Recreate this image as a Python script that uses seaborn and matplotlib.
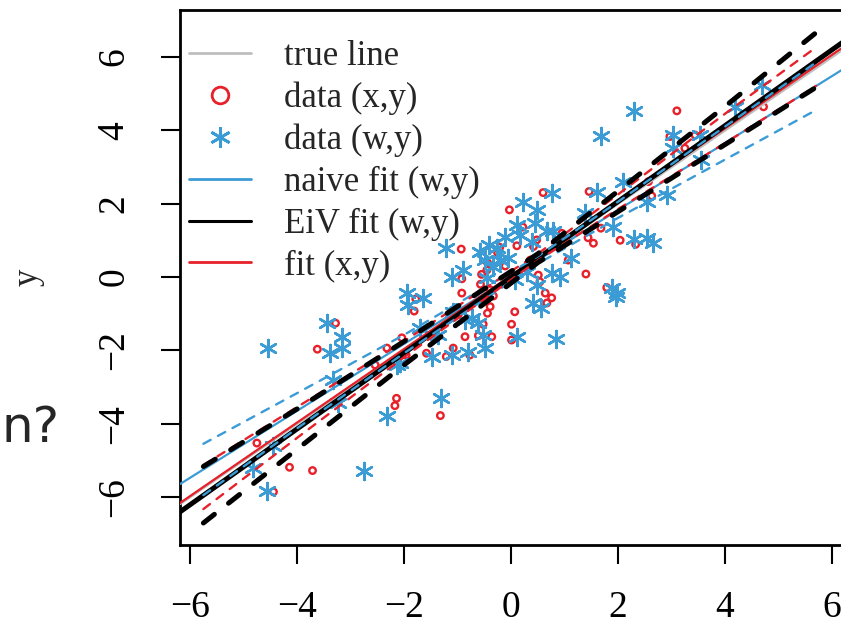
import numpy as np
import pandas as pd
import matplotlib
matplotlib.use("Agg")
import matplotlib.pyplot as plt
from matplotlib.lines import Line2D
import seaborn as sns

# data (x,y): red circles
red_x = [-4.75, -4.14, -3.71, -4.44, -3.28, -3.62, -2.32, -2.04, -2.54, -2.14,
         -2.17, -1.32, -1.78, -1.81, -1.96, -1.58, -1.21, -1.08, -0.86, -0.77,
         -0.61, -0.36, -0.52, -0.44, -0.39, -0.33, 0.07, 0.01, 0.01, -0.93,
         -0.03, 0.60, 0.22, 0.48, 0.42, 0.11, -0.21, -0.25, -0.44, -0.11,
         -0.45, -0.55, -0.92, -0.57, -0.39, -0.92, 0.51, 0.54, 0.64, 0.36,
         1.46, 2.63, 1.68, 0.95, 1.44, 1.54, 2.04, 2.33, 1.07, 1.40,
         1.79, 0.76, 0.67, 3.10, 4.72, 3.44, 3.25, 2.97, 2.57]
red_y = [-4.53, -5.19, -5.28, -5.86, -1.26, -1.97, -1.94, -1.66, -2.40, -3.31,
         -3.51, -3.78, -0.60, -0.93, -2.13, -2.08, -2.17, -1.94, -1.63, -2.13,
         -1.60, -1.63, -1.29, -0.99, -0.81, -0.52, -0.95, -1.29, -1.72, 0.76,
         1.83, 2.30, 1.36, 1.01, 0.83, 0.85, 0.81, 0.66, 0.39, 0.30,
         0.19, 0.07, -0.05, -0.20, -0.35, -0.44, 0.05, -0.13, -0.44, 0.46,
         2.33, 2.21, 1.33, 1.19, 1.07, 0.92, 1.00, 0.89, 0.46, 0.08,
         -0.29, -0.57, -0.71, 4.53, 4.64, 3.87, 3.51, 3.83, 2.60]

# data (w,y): blue stars
blue_w = [-4.54, -3.44, -3.16, -3.16, -3.38, -3.32, -3.24, -2.31, -2.14, -1.94,
          -1.93, -2.74, -4.44, -4.82, -4.56, -1.22, -0.89, -1.11, -0.58, -0.42,
          -0.27, -0.11, 0.11, 0.17, 0.48, 0.45, 0.23, -0.21, -0.05, -0.33,
          -0.49, 0.29, 0.48, 0.07, -0.45, 0.67, 0.39, 0.76, 1.60, 2.10,
          2.91, 2.54, 1.38, 1.91, 0.79, 2.29, 2.54, 2.66, 1.13, 0.76,
          0.92, 1.88, 1.98, -1.64, -1.70, -1.36, -1.48, -1.08, -0.86, -0.73,
          -0.61, -0.52, -0.49, -0.80, -1.11, 0.11, 0.42, 0.57, -2.07, -1.30,
          0.84, 1.96, 2.30, 1.68, 3.03, 3.03, 4.19, 4.69, 3.56, 3.53]
blue_y = [-1.94, -1.26, -1.65, -1.94, -2.08, -2.80, -3.44, -3.79, -2.40, -0.44,
          -0.76, -5.29, -4.61, -5.20, -5.85, 0.78, 0.19, -0.01, 0.69, 0.87,
          0.78, 1.10, 1.42, 1.15, 1.83, 1.46, 2.05, 0.46, 0.51, 0.28,
          0.46, 0.14, -0.22, -0.08, -0.04, 1.24, 0.96, 2.30, 2.33, 2.60,
          2.24, 2.05, 1.75, 1.37, 1.24, 1.03, 1.06, 0.92, 0.51, 0.10,
          0.01, -0.31, -0.44, -0.58, -1.40, -1.58, -2.17, -0.95, -1.17, -1.13,
          -1.26, -1.58, -1.94, -2.04, -2.13, -1.63, -0.72, -0.85, -2.35, -3.29,
          -1.70, -0.56, 4.53, 3.85, 3.87, 3.51, 4.64, 5.24, 3.19, 3.87]

# fitted lines: (intercept, slope)
true_line = (0.0, 1.0)
naive_fit = (0.0, 0.913)
eiv_fit = (-0.01, 1.034)
xy_fit = (0.04, 1.003)

# dashed bands
band_x = [-5.75, -4.0, -2.0, 0.5, 2.0, 4.0, 5.7]
naive_hi = [-4.55, -3.17, -1.58, 0.56, 2.05, 4.10, 5.85]
naive_lo = [-5.95, -4.13, -2.08, 0.36, 1.61, 3.20, 4.55]
eiv_hi = [-5.17, -3.60, -1.76, 0.63, 2.34, 4.65, 6.66]
eiv_lo = [-6.71, -4.70, -2.40, 0.39, 1.78, 3.61, 5.17]
xy_hi = [-5.13, -3.55, -1.75, 0.63, 2.25, 4.45, 6.26]
xy_lo = [-6.33, -4.39, -2.19, 0.45, 1.85, 3.65, 5.21]

ticks = [-6, -4, -2, 0, 2, 4, 6]
labels = ["true line", "data (x,y)", "data (w,y)", "naive fit (w,y)",
          "EiV fit (w,y)", "fit (x,y)"]

RED = "#e8202a"
BLUE = "#3a9bd5"
GREY = "#bebebe"
STAR = (6, 2, 0)

sns.set_style("white")
plt.rcParams["font.family"] = ["Liberation Serif", "DejaVu Serif"]
plt.rcParams["axes.unicode_minus"] = True

fig = plt.figure(figsize=(8.41, 6.27), dpi=100)
W, H = 841, 627
x0, x1 = -6.187, 6.5
y0, y1 = -7.31, 7.28
ppx, ppy = 53.5, 36.67
ax = fig.add_axes([180 / W, (H - 545) / H, (x1 - x0) * ppx / W, 535 / H])

df_red = pd.DataFrame({"x": red_x, "y": red_y})
df_blue = pd.DataFrame({"w": blue_w, "y": blue_y})
sns.scatterplot(data=df_red, x="x", y="y", ax=ax, marker="o", s=22,
                color=RED, facecolors="none", edgecolor=RED, linewidth=1.7,
                zorder=2)
sns.scatterplot(data=df_blue, x="w", y="y", ax=ax, marker=STAR, s=150,
                color=BLUE, edgecolor=BLUE, linewidth=1.8, zorder=2)

for (b, m), col, lw in [(true_line, GREY, 2.0), (naive_fit, BLUE, 1.6),
                        (xy_fit, RED, 1.6), (eiv_fit, "black", 3.6)]:
    ax.axline((0, b), slope=m, color=col, lw=lw, zorder=3)

for hi, lo, col, lw, pat in [(naive_hi, naive_lo, BLUE, 1.7, (3.5, 3.5)),
                             (xy_hi, xy_lo, RED, 1.7, (3.5, 3.5)),
                             (eiv_hi, eiv_lo, "black", 3.6, (2.8, 3.6))]:
    for band in (hi, lo):
        sns.lineplot(x=band_x, y=band, ax=ax, color=col, lw=lw,
                     linestyle=(0, pat), dash_capstyle="round", zorder=4)

ax.set_xlim(x0, x1)
ax.set_ylim(y0, y1)
ax.set_xticks(ticks)
ax.set_yticks(ticks)
ax.set_xticklabels([str(t).replace("-", "\u2212") for t in ticks])
ax.set_yticklabels([str(t).replace("-", "\u2212") for t in ticks],
                   rotation=90, va="center")
ax.tick_params(direction="out", length=14, width=1.5, labelsize=27,
               colors="black")
ax.tick_params(axis="x", bottom=True, pad=19)
ax.tick_params(axis="y", left=True, pad=21)
for s in ax.spines.values():
    s.set_linewidth(2)
    s.set_color("black")
ax.set_xlabel("")
ax.set_ylabel("y", fontsize=25, rotation=90)
ax.yaxis.set_label_coords(-0.2, 0.5)

handles = [
    Line2D([], [], color=GREY, lw=2),
    Line2D([], [], color=RED, marker="o", ms=12, mfc="none", mew=2, ls="none"),
    Line2D([], [], color=BLUE, marker=STAR, ms=15, mew=2, ls="none"),
    Line2D([], [], color=BLUE, lw=2),
    Line2D([], [], color="black", lw=2.2),
    Line2D([], [], color=RED, lw=2),
]
ax.legend(handles, labels, loc="upper left", frameon=False, fontsize=25,
          handlelength=1.8, handletextpad=0.95, labelspacing=0.25,
          borderaxespad=0, bbox_to_anchor=(175 / W, (H - 26) / H),
          bbox_transform=fig.transFigure)

fig.text(0.002, (H - 442) / H, "n?", fontsize=36, family="DejaVu Sans",
         ha="left", va="baseline")

fig.savefig("out.png", dpi=100)
